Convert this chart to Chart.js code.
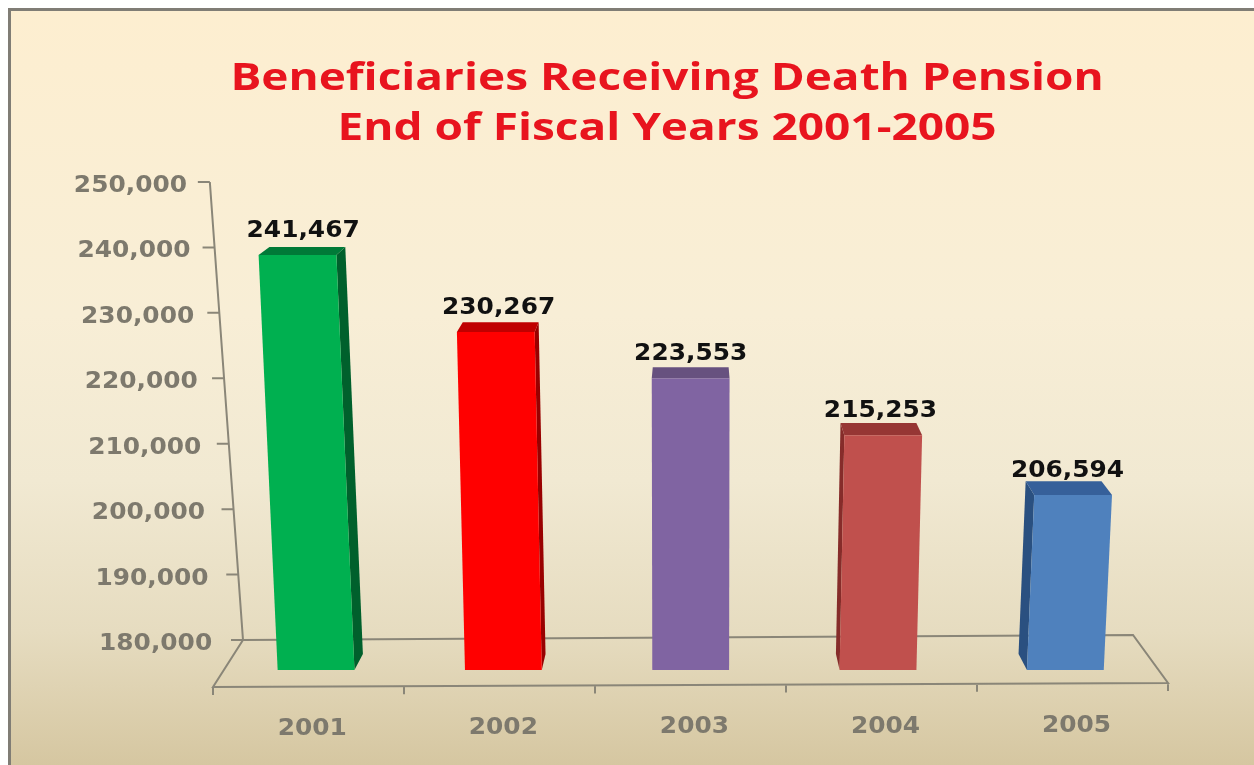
<!DOCTYPE html>
<html lang="en">
<head>
<meta charset="utf-8">
<title>Beneficiaries Receiving Death Pension</title>
<script src="https://cdn.jsdelivr.net/npm/chart.js@4/dist/chart.umd.min.js"></script>
<style>
  html, body { margin: 0; padding: 0; background: #fff; overflow: hidden; }
  #frame {
    position: absolute; left: 8px; top: 8px; width: 1243px; height: 757px;
    border-left: 3px solid #807d75; border-top: 3px solid #807d75;
    background: linear-gradient(to bottom, #fdeed0 0%, #f8eed6 40%, #f1e9d2 62%, #e6dcc0 82%, #d5c6a0 100%);
  }
  #chart { position: absolute; left: 0; top: 0; }
</style>
</head>
<body>
<div id="frame"></div>
<canvas id="chart" width="1254" height="765"></canvas>
<script>
const years = ['2001', '2002', '2003', '2004', '2005'];
const beneficiaries = [241467, 230267, 223553, 215253, 206594];
const yTicks = [180000, 190000, 200000, 210000, 220000, 230000, 240000, 250000];
const titleLines = ['Beneficiaries Receiving Death Pension', 'End of Fiscal Years 2001-2005'];

const frontColors = ['#00b050', '#ff0000', '#8064a2', '#c0504d', '#4f81bd'];
const topColors = ['#007a38', '#c00000', '#67517f', '#963634', '#36609a'];
const sideColors = ['#00602c', '#990000', '#5a4570', '#862c2a', '#2a5080'];

const AXIS_GREY = '#8a8678';
const LABEL_GREY = '#7d796d';
const VANISH_X = 692;
// the floor is drawn in perspective, so the front faces start a little above the 180,000 line
const BAR_AXIS_MIN = 181147;

function fmt(v) {
  return v.toLocaleString('en-US');
}

// the picture is stretched sideways, so text is too
function wideText(ctx, text, x, y, font, color, align, stretch) {
  ctx.save();
  ctx.font = font;
  ctx.fillStyle = color;
  ctx.textAlign = align;
  ctx.textBaseline = 'middle';
  ctx.translate(x, y);
  ctx.scale(stretch, 1);
  ctx.fillText(text, 0, 0);
  ctx.restore();
}

function poly(ctx, pts, color) {
  ctx.beginPath();
  pts.forEach((p, i) => i ? ctx.lineTo(p[0], p[1]) : ctx.moveTo(p[0], p[1]));
  ctx.closePath();
  ctx.fillStyle = color;
  ctx.fill();
}

const fake3d = {
  id: 'fake3d',

  // title, wall axis, floor and axis labels sit behind the bars
  beforeDatasetsDraw(chart) {
    const ctx = chart.ctx;
    const y = chart.scales.y;
    const x = chart.scales.x;
    const bottom = chart.chartArea.bottom;
    const backY = y.getPixelForValue(180000);
    const wallX = py => 243 - (backY - py) * 0.0724;

    titleLines.forEach((line, i) => {
      wideText(ctx, line, 667, 79 + i * 50, 'bold 38px "Open Sans"', '#e8141e', 'center', 1.21);
    });

    ctx.save();
    ctx.strokeStyle = AXIS_GREY;
    ctx.lineWidth = 2;

    ctx.beginPath();
    ctx.moveTo(wallX(y.top), y.top);
    ctx.lineTo(wallX(backY), backY);
    yTicks.forEach(v => {
      const py = y.getPixelForValue(v);
      ctx.moveTo(wallX(py), py);
      ctx.lineTo(wallX(py) - 12, py);
    });
    ctx.stroke();

    const frontY = bottom + 17;
    const fl = 213, fr = 1168;
    ctx.beginPath();
    ctx.moveTo(wallX(backY), backY);
    ctx.lineTo(1133, backY - 5);
    ctx.lineTo(fr, frontY - 4);
    ctx.lineTo(fl, frontY);
    ctx.closePath();
    for (let i = 0; i <= years.length; i++) {
      const tx = fl + i * (fr - fl) / years.length;
      const ty = frontY - i * 4 / years.length;
      ctx.moveTo(tx, ty);
      ctx.lineTo(tx, ty + 8);
    }
    ctx.stroke();
    ctx.restore();

    yTicks.forEach(v => {
      const py = y.getPixelForValue(v);
      wideText(ctx, fmt(v), 187 + (py - y.top) * 0.055, py + 4, 'bold 23px "DejaVu Sans"', LABEL_GREY, 'right', 1.08);
    });

    years.forEach((yr, i) => {
      const px = x.getPixelForValue(i);
      wideText(ctx, yr, px + (px - 504) * 0.02, bottom + 59 - i * 0.8, 'bold 23px "DejaVu Sans"', LABEL_GREY, 'center', 1.08);
    });
  },

  // bars lean towards the middle of the picture, so the flat rectangle is replaced
  beforeDatasetDraw(chart, args) {
    const ctx = chart.ctx;
    args.meta.data.forEach((bar, i) => {
      const h = bar.base - bar.y;
      const lean = (bar.x - VANISH_X) * 0.000119 * h;
      const half = bar.width / 2;
      const tl = [bar.x + lean - half - 0.5, bar.y];
      const tr = [bar.x + lean + half + 0.5, bar.y];
      const bl = [bar.x - half, bar.base];
      const br = [bar.x + half, bar.base];
      const dy = 18 - 0.024 * h;
      const dx = p => (p - VANISH_X) * -0.025;
      const backTl = [tl[0] + dx(tl[0]), bar.y - dy];
      const backTr = [tr[0] + dx(tr[0]), bar.y - dy];
      const backBl = [bl[0] + dx(bl[0]), bar.base - 16];
      const backBr = [br[0] + dx(br[0]), bar.base - 16];

      if (dx(tr[0]) > 0.5) poly(ctx, [tr, backTr, backBr, br], sideColors[i]);
      if (dx(tl[0]) < -0.5) poly(ctx, [tl, backTl, backBl, bl], sideColors[i]);
      poly(ctx, [tl, backTl, backTr, tr], topColors[i]);
      poly(ctx, [tl, tr, br, bl], bar.options.backgroundColor);
    });
    return false;
  },

  afterDatasetsDraw(chart) {
    const ctx = chart.ctx;
    chart.getDatasetMeta(0).data.forEach((bar, i) => {
      const lean = (bar.x - VANISH_X) * 0.000119 * (bar.base - bar.y);
      const lx = bar.x + lean - (bar.x - VANISH_X) * 0.015;
      wideText(ctx, fmt(beneficiaries[i]), lx, bar.y - 24, 'bold 23px "DejaVu Sans"', '#111', 'center', 1.08);
    });
  }
};

const noAxisDrawing = {
  ticks: { display: false },
  grid: { display: false },
  border: { display: false }
};

new Chart(document.getElementById('chart'), {
  type: 'bar',
  data: {
    labels: years,
    datasets: [{
      data: beneficiaries,
      base: BAR_AXIS_MIN,
      yAxisID: 'yBars',
      backgroundColor: frontColors,
      barPercentage: 0.41,
      categoryPercentage: 1
    }]
  },
  options: {
    responsive: false,
    animation: false,
    events: [],
    layout: { padding: { left: 222.4, right: 95, top: 182, bottom: 95 } },
    plugins: {
      legend: { display: false },
      tooltip: { enabled: false }
    },
    scales: {
      x: { ...noAxisDrawing, afterFit(scale) { scale.height = 0; } },
      // axis shown on the back wall
      y: { ...noAxisDrawing, min: 175415, max: 250000, afterFit(scale) { scale.width = 0; } },
      // axis the front faces of the bars stand on
      yBars: { ...noAxisDrawing, min: BAR_AXIS_MIN, max: 252077, afterFit(scale) { scale.width = 0; } }
    }
  },
  plugins: [fake3d]
});
</script>
</body>
</html>
